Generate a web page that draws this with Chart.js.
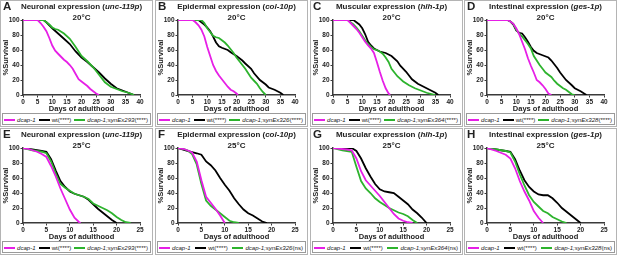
<!DOCTYPE html>
<html>
<head>
<meta charset="utf-8">
<script src="https://cdn.jsdelivr.net/npm/chart.js@4.4.0/dist/chart.umd.min.js"></script>
<style>
  body { margin: 0; width: 617px; height: 256px; background: #fff; position: relative; overflow: hidden;
         font-family: "Liberation Sans", Arial, sans-serif; color: #222; }
  .panel { position: absolute; width: 153px; height: 127px; border: 1px solid #b4b4b4; box-sizing: border-box; }
  .panel canvas { position: absolute; left: 0; top: 0; }
  .letter { position: absolute; left: 2px; top: -1px; font-weight: bold; font-size: 11.5px; }
  .title { position: absolute; left: 8px; width: 145px; text-align: center; font-weight: bold; font-size: 8px; white-space: nowrap; }
  .legend { position: absolute; left: 1px; top: 112px; width: 149px; height: 12px; border: 1px solid #9a9a9a;
            box-sizing: border-box; font-size: 6.1px; display: flex; align-items: center; justify-content: space-between;
            padding: 0 2px 0 1px; white-space: nowrap; }
  .legend i { font-style: italic; }
  .swatch { display: inline-block; width: 11px; height: 2px; vertical-align: middle; margin-right: 2px; }
</style>
</head>
<body>
<script>
// panel text
const panelLetters = ['A', 'B', 'C', 'D', 'E', 'F', 'G', 'H'];
const tissues = ['Neuronal', 'Epidermal', 'Muscular', 'Intestinal', 'Neuronal', 'Epidermal', 'Muscular', 'Intestinal'];
const promoters = ['unc-119p', 'col-10p', 'hlh-1p', 'ges-1p', 'unc-119p', 'col-10p', 'hlh-1p', 'ges-1p'];
const temps = ['20°C', '20°C', '20°C', '20°C', '25°C', '25°C', '25°C', '25°C'];
const xMaxes = [40, 40, 40, 40, 25, 25, 25, 25];
const rescueNames = ['synEx293', 'synEx326', 'synEx364', 'synEx328', 'synEx293', 'synEx326', 'synEx364', 'synEx328'];
const wtSig = ['****', '****', '****', '****', '****', '****', '****', '****'];
const rescueSig = ['****', '****', '****', '****', '****', 'ns', 'ns', 'ns'];

// survival curves: [day, % survival]
const aDcap = [[0,100],[5,100],[6,96],[7,91],[8,85],[9,76],[10,66],[11,59],[12,55],[13,51],[14,47],[15,44],[16,40],[17,35],[18,28],[19,21],[20,18],[21,15],[22,12],[23,8],[24,5],[25,2],[26,0]];
const aWt = [[0,100],[7,100],[8,97],[9,93],[10,89],[12,82],[14,75],[16,68],[18,58],[20,50],[22,44],[24,37],[26,30],[28,22],[30,15],[32,9],[34,6],[36,3],[38,0]];
const aRes = [[0,100],[7,100],[8,97],[9,94],[10,90],[11,88],[12,87],[14,82],[16,75],[18,64],[20,52],[22,45],[24,37],[26,27],[28,17],[30,11],[32,8],[34,5],[36,3],[38,0]];

const bDcap = [[0,100],[5,100],[6,97],[7,93],[8,87],[9,78],[10,64],[11,52],[12,40],[13,32],[14,26],[15,21],[16,16],[17,11],[18,7],[19,5],[20,2],[20.5,0]];
const bWt = [[0,100],[7,100],[8,97],[9,94],[10,90],[11,85],[12,78],[13,70],[14,65],[15,63],[17,60],[18,57],[20,52],[22,46],[23,42],[25,35],[26,29],[28,20],[30,14],[31,10],[33,7],[35,3],[36,0]];
const bRes = [[0,100],[8,100],[9,96],[10,89],[11,84],[12,79],[13,77],[14,76],[15,73],[16,70],[17,66],[18,61],[19,56],[20,50],[21,45],[22,40],[23,35],[24,29],[25,23],[26,19],[27,15],[28,9],[29,4],[30,0]];

const cDcap = [[0,100],[5,100],[6,96],[7,92],[8,88],[9,83],[10,77],[11,71],[12,66],[13,62],[14,56],[15,44],[16,31],[17,19],[18,9],[19,2],[19.5,0]];
const cWt = [[0,100],[7,100],[8,97],[9,94],[10,89],[11,81],[12,71],[13,66],[14,62],[16,58],[18,56],[20,52],[22,45],[23,39],[25,31],[27,21],[29,15],[31,11],[33,7],[35,3],[36,0]];
const cRes = [[0,100],[5,100],[6,97],[7,94],[8,90],[9,85],[10,79],[11,73],[12,68],[13,64],[14,61],[15,60],[16,58],[17,55],[18,50],[19,44],[20,35],[21,30],[22,25],[24,18],[26,13],[28,9],[30,6],[32,3],[34,1],[35,0]];

const dDcap = [[0,100],[7,100],[8,98],[9,95],[10,89],[11,81],[12,71],[13,61],[14,49],[15,39],[16,30],[17,20],[18,17],[19,13],[20,8],[21,2],[22,0]];
const dWt = [[0,100],[7,100],[8,98],[9,94],[10,86],[11,83],[12,82],[13,77],[14,71],[15,64],[16,59],[17,56],[19,53],[21,50],[22,46],[23,41],[24,36],[25,30],[27,20],[29,13],[30,9],[32,5],[34,0]];
const dRes = [[0,100],[7,100],[8,98],[9,95],[10,87],[11,82],[12,78],[13,73],[14,68],[15,62],[16,52],[17,46],[18,40],[19,35],[20,30],[21,27],[22,24],[23,19],[24,15],[25,12],[26,9],[27,7],[28,4],[29,1],[30,0]];

const eDcap = [[0,100],[1,99],[2,97],[3,95],[4,92],[5,88],[6,76],[7,62],[8,46],[9,32],[10,18],[11,7],[12,1],[12.3,0]];
const eWt = [[0,100],[2,98],[4,96],[5,95],[6,85],[7,70],[8,56],[9,48],[10,42],[11,39],[12,37],[13,35],[14,31],[15,25],[16,19],[17,14],[18,9],[19,4],[20,0]];
const eRes = [[0,100],[2,97],[4,95],[5,93],[6,82],[7,66],[8,52],[9,47],[10,43],[11,39],[12,37],[13,35],[14,32],[15,26],[16,23],[17,20],[18,17],[19,13],[20,8],[21,4],[22,1],[23,0]];

const fDcap = [[0,100],[1,99],[2,97],[3,94],[4,82],[5,57],[6,35],[7,27],[8,19],[9,10],[10,0]];
const fWt = [[0,100],[2,96],[4,93],[5,91],[6,82],[7,77],[8,70],[9,60],[10,51],[11,43],[12,33],[13,25],[14,18],[15,13],[16,10],[17,6],[18,2],[19,0]];
const fRes = [[0,100],[1,99],[2,97],[3,92],[4,78],[5,52],[6,30],[7,23],[8,18],[9,13],[10,8],[11,3],[12,1],[13,0]];

const gDcap = [[0,100],[3,98],[4,97],[5,86],[6,69],[7,57],[8,50],[9,43],[10,36],[11,28],[12,20],[13,12],[14,6],[15,3],[16,1],[17,0]];
const gWt = [[0,100],[4,100],[5,96],[6,86],[7,73],[8,62],[9,52],[10,45],[11,42],[12,41],[13,40],[14,35],[15,30],[16,25],[17,18],[18,13],[19,7],[20,0]];
const gRes = [[0,100],[2,97],[4,95],[5,75],[6,56],[7,46],[8,40],[9,33],[10,28],[11,24],[12,20],[13,17],[14,14],[15,12],[16,9],[17,4],[18,0]];

const hDcap = [[0,100],[2,96],[4,91],[5,86],[6,73],[7,56],[8,42],[9,30],[10,16],[11,7],[12,0]];
const hWt = [[0,100],[2,98],[4,96],[5,95],[6,85],[7,70],[8,57],[9,48],[10,42],[11,38],[12,37],[13,37],[14,33],[15,27],[16,20],[17,15],[18,10],[19,5],[20,0]];
const hRes = [[0,100],[2,98],[4,96],[5,94],[6,82],[7,65],[8,50],[9,37],[10,28],[11,22],[12,16],[13,13],[14,8],[15,5],[16,2],[17,0]];

const yTicks = [0, 20, 40, 60, 80, 100];

const curves = [
  [aDcap, aWt, aRes], [bDcap, bWt, bRes], [cDcap, cWt, cRes], [dDcap, dWt, dRes],
  [eDcap, eWt, eRes], [fDcap, fWt, fRes], [gDcap, gWt, gRes], [hDcap, hWt, hRes]
];

const MAGENTA = '#e61fe6';
const BLACK = '#000000';
const GREEN = '#2db32d';
const AXIS = '#3a3a3a';

const lefts = [0, 155, 310, 464];
const tops = [0, 128];

const toPoints = (arr) => arr.map(p => ({ x: p[0], y: p[1] }));

curves.forEach((set, i) => {
  const panel = document.createElement('div');
  panel.className = 'panel';
  panel.style.left = lefts[i % 4] + 'px';
  panel.style.top = tops[Math.floor(i / 4)] + 'px';

  const canvas = document.createElement('canvas');
  canvas.width = 151;
  canvas.height = 112;
  panel.appendChild(canvas);

  const letter = document.createElement('div');
  letter.className = 'letter';
  letter.textContent = panelLetters[i];
  panel.appendChild(letter);

  const t1 = document.createElement('div');
  t1.className = 'title';
  t1.style.top = '1px';
  t1.innerHTML = `${tissues[i]} expression (<i>${promoters[i]}</i>)`;
  panel.appendChild(t1);

  const t2 = document.createElement('div');
  t2.className = 'title';
  t2.style.top = '12px';
  t2.textContent = temps[i];
  panel.appendChild(t2);

  const legend = document.createElement('div');
  legend.className = 'legend';
  legend.innerHTML =
    `<span><span class="swatch" style="background:${MAGENTA}"></span><i>dcap-1</i></span>` +
    `<span><span class="swatch" style="background:${BLACK}"></span>wt(${wtSig[i]})</span>` +
    `<span><span class="swatch" style="background:${GREEN}"></span><i>dcap-1;${rescueNames[i]}</i>(${rescueSig[i]})</span>`;
  panel.appendChild(legend);

  document.body.appendChild(panel);

  new Chart(canvas.getContext('2d'), {
    type: 'line',
    data: {
      datasets: [
        { data: toPoints(set[1]), borderColor: BLACK, order: 2 },
        { data: toPoints(set[2]), borderColor: GREEN, order: 1 },
        { data: toPoints(set[0]), borderColor: MAGENTA, order: 0 }
      ]
    },
    options: {
      responsive: false,
      animation: false,
      devicePixelRatio: 1,
      layout: { padding: { top: 19, right: 12, left: 0, bottom: 0 } },
      elements: {
        line: { borderWidth: 1.8, tension: 0, fill: false },
        point: { radius: 0 }
      },
      plugins: { legend: { display: false }, tooltip: { enabled: false } },
      scales: {
        x: {
          type: 'linear',
          min: 0,
          max: xMaxes[i],
          afterFit: (s) => { s.height = 18; },
          ticks: { stepSize: 5, autoSkip: false, maxRotation: 0, padding: 1, color: '#222',
                   font: { family: 'Liberation Sans', size: 6.5, weight: 'bold' } },
          grid: { display: true, drawOnChartArea: false, tickLength: 2.5, color: AXIS, lineWidth: 1 },
          border: { display: true, color: AXIS, width: 1.5 },
          title: { display: true, text: 'Days of adulthood', padding: 0, color: '#222',
                   font: { family: 'Liberation Sans', size: 7.5, weight: 'bold' } }
        },
        y: {
          min: 0,
          max: 100,
          afterFit: (s) => { s.width = 22; },
          afterBuildTicks: (s) => { s.ticks = yTicks.map(v => ({ value: v })); },
          ticks: { padding: 1, color: '#222', font: { family: 'Liberation Sans', size: 6.5, weight: 'bold' } },
          grid: { display: true, drawOnChartArea: false, tickLength: 2.5, color: AXIS, lineWidth: 1 },
          border: { display: true, color: AXIS, width: 1.5 },
          title: { display: true, text: '%Survival', padding: 0, color: '#222',
                   font: { family: 'Liberation Sans', size: 7.5, weight: 'bold' } }
        }
      }
    }
  });
});
</script>
</body>
</html>
